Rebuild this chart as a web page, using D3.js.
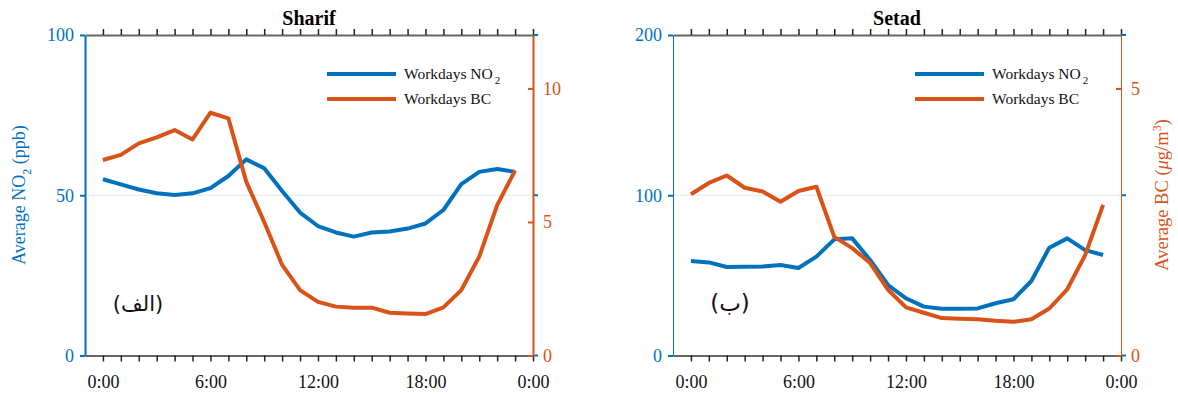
<!DOCTYPE html>
<html>
<head>
<meta charset="utf-8">
<script src="https://cdn.jsdelivr.net/npm/d3@7"></script>
<style>
  body { margin: 0; background: #fff; }
  text { font-family: "Liberation Serif", "Times New Roman", serif; }
</style>
</head>
<body>
<svg id="chart" width="1178" height="394"></svg>
<script>
// hours of the day (0..23)
const hours = d3.range(0, 24);
const xTickLabels = ["0:00", "6:00", "12:00", "18:00", "0:00"];

// Sharif
const sharifNO2 = [55.0, 53.4, 51.8, 50.6, 50.1, 50.6, 52.2, 56.0, 61.2, 58.4, 51.3, 44.6,
                   40.4, 38.4, 37.1, 38.4, 38.7, 39.6, 41.2, 45.4, 53.5, 57.3, 58.2, 57.3];
const sharifBC  = [7.32, 7.51, 7.94, 8.17, 8.44, 8.09, 9.09, 8.88, 6.50, 5.00, 3.39, 2.45,
                   2.01, 1.83, 1.79, 1.79, 1.60, 1.57, 1.55, 1.80, 2.45, 3.70, 5.63, 6.92];

// Setad
const setadNO2 = [59.0, 58.1, 55.2, 55.4, 55.6, 56.5, 54.6, 61.7, 72.5, 73.1, 59.6, 44.0,
                  35.7, 30.5, 29.2, 29.2, 29.4, 32.6, 35.1, 46.5, 67.3, 73.1, 65.8, 62.7];
const setadBC  = [3.02, 3.23, 3.37, 3.14, 3.07, 2.88, 3.08, 3.16, 2.22, 2.01, 1.73, 1.23,
                  0.90, 0.80, 0.70, 0.69, 0.68, 0.65, 0.63, 0.68, 0.88, 1.24, 1.88, 2.82];

const leftTicksSharif = [0, 50, 100];
const rightTicksSharif = [0, 5, 10];
const leftTicksSetad = [0, 100, 200];
const rightTicksSetad = [0, 5];

const blue = "#0072BD", orange = "#D95319";
const svg = d3.select("#chart");

function drawPanel(o) {
  const top = 35, bottom = 355.5, left = o.left, right = o.left + 448;
  const g = svg.append("g");

  const x = d3.scaleLinear().domain([-1, 24]).range([left, right]);
  const yL = d3.scaleLinear().domain(o.leftDomain).range([bottom, top]);
  const yR = d3.scaleLinear().domain(o.rightDomain).range([bottom, top]);

  // grid at left ticks
  g.selectAll(".grid").data(o.leftTicks.slice(1, -1)).enter().append("line")
    .attr("x1", left).attr("x2", right)
    .attr("y1", d => yL(d)).attr("y2", d => yL(d))
    .attr("stroke", "#e3e9f0").attr("stroke-width", 1);

  // bottom and top axes
  const xb = g.append("g").attr("transform", `translate(0,${bottom})`)
    .call(d3.axisBottom(x).tickValues(d3.range(0, 25)).tickSize(6).tickSizeOuter(0)
      .tickFormat(d => d % 6 === 0 ? xTickLabels[d / 6] : ""));
  const xt = g.append("g").attr("transform", `translate(0,${top})`)
    .call(d3.axisTop(x).tickValues(d3.range(0, 25)).tickSize(6).tickSizeOuter(0).tickFormat(""));
  [xb, xt].forEach(a => {
    a.attr("font-family", null);
    a.select(".domain").attr("stroke", "#666").attr("stroke-width", 2);
    a.selectAll(".tick line").attr("stroke", "#222").attr("stroke-width", 1.5);
  });
  xb.selectAll("text").attr("fill", "#111").attr("font-size", 18)
    .attr("y", 32).attr("dy", 0);

  // left axis
  const ya = g.append("g").attr("transform", `translate(${left},0)`)
    .call(d3.axisLeft(yL).tickValues(o.leftTicks).tickSize(5).tickSizeOuter(0));
  ya.attr("font-family", null);
  ya.select(".domain").attr("stroke", blue).attr("stroke-width", o.axisWidth);
  ya.selectAll(".tick line").attr("stroke", blue).attr("stroke-width", 2);
  ya.selectAll("text").attr("fill", blue).attr("font-size", 18).attr("x", -11);

  // mirrored left ticks on right side
  g.selectAll(".mir").data(o.leftTicks).enter().append("line")
    .attr("x1", right).attr("x2", right + 5)
    .attr("y1", d => yL(d)).attr("y2", d => yL(d))
    .attr("stroke", blue).attr("stroke-width", 2);

  // right axis
  const yr = g.append("g").attr("transform", `translate(${right},0)`)
    .call(d3.axisRight(yR).tickValues(o.rightTicks).tickSize(-5).tickSizeOuter(0)
      .tickFormat(d3.format("d")));
  yr.attr("font-family", null);
  yr.select(".domain").attr("stroke", orange).attr("stroke-width", o.axisWidth);
  yr.selectAll(".tick line").attr("stroke", orange).attr("stroke-width", 2);
  yr.selectAll("text").attr("fill", orange).attr("font-size", 18).attr("x", 10);

  // lines
  const lineL = d3.line().x((d, i) => x(hours[i])).y(d => yL(d));
  const lineR = d3.line().x((d, i) => x(hours[i])).y(d => yR(d));
  g.append("path").datum(o.no2).attr("d", lineL)
    .attr("fill", "none").attr("stroke", blue).attr("stroke-width", 4).attr("stroke-linejoin", "round");
  g.append("path").datum(o.bc).attr("d", lineR)
    .attr("fill", "none").attr("stroke", orange).attr("stroke-width", 4).attr("stroke-linejoin", "round");

  // title
  g.append("text").attr("x", (left + right) / 2).attr("y", 25)
    .attr("text-anchor", "middle").attr("font-size", 20).attr("font-weight", "bold")
    .attr("fill", "#000").text(o.title);

  // legend
  const lx = left + o.legendX;
  [["NO", blue, 74], ["BC", orange, 99]].forEach(([name, c, ly]) => {
    g.append("line").attr("x1", lx).attr("x2", lx + 69).attr("y1", ly).attr("y2", ly)
      .attr("stroke", c).attr("stroke-width", 4);
    const t = g.append("text").attr("x", lx + 77).attr("y", ly + 5)
      .attr("font-size", 15.5).attr("fill", "#111").text("Workdays " + name);
    if (name === "NO") t.append("tspan").attr("dx", 2).attr("dy", 5).attr("font-size", 11).text("2");
  });

  // panel letter
  g.append("text").attr("x", left + o.letterX).attr("y", 311)
    .attr("text-anchor", "middle").attr("font-size", o.letterSize).attr("fill", "#111")
    .style("font-family", "DejaVu Sans")
    .attr("direction", "rtl").text(o.letter);
}

drawPanel({
  left: 85, title: "Sharif", no2: sharifNO2, bc: sharifBC,
  leftDomain: [0, 100], rightDomain: [0, 12],
  leftTicks: leftTicksSharif, rightTicks: rightTicksSharif,
  axisWidth: 2, legendX: 242, letterX: 53, letterSize: 21, letter: "(الف)"
});
drawPanel({
  left: 673, title: "Setad", no2: setadNO2, bc: setadBC,
  leftDomain: [0, 200], rightDomain: [0, 6],
  leftTicks: leftTicksSetad, rightTicks: rightTicksSetad,
  axisWidth: 1, legendX: 242, letterX: 57, letterSize: 23, letter: "(ب)"
});

// y-axis labels
const ylab = svg.append("text").attr("transform", "translate(25,195) rotate(-90)")
  .attr("text-anchor", "middle").attr("font-size", 18).attr("fill", blue);
ylab.append("tspan").text("Average NO");
ylab.append("tspan").attr("dy", 6).attr("font-size", 12).text("2");
ylab.append("tspan").attr("dy", -6).text(" (ppb)");

const yrlab = svg.append("text").attr("transform", "translate(1168,195) rotate(-90)")
  .attr("text-anchor", "middle").attr("font-size", 18.5).attr("fill", orange);
yrlab.append("tspan").text("Average BC (");
yrlab.append("tspan").attr("font-style", "italic").text("μ");
yrlab.append("tspan").text("g/m");
yrlab.append("tspan").attr("dy", -7).attr("font-size", 12).text("3");
yrlab.append("tspan").attr("dy", 7).text(")");
</script>
</body>
</html>
